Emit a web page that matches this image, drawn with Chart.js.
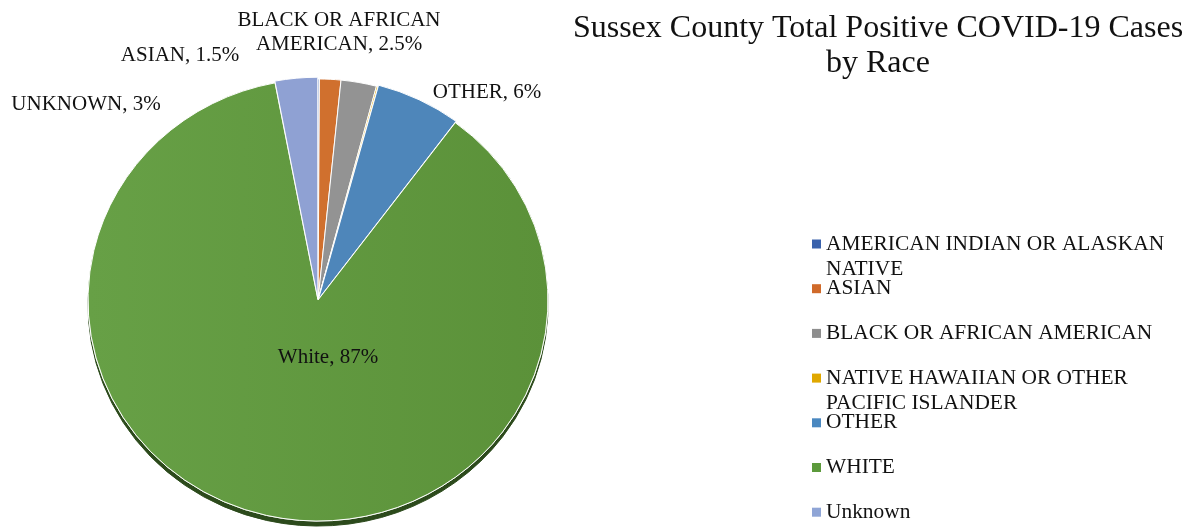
<!DOCTYPE html>
<html>
<head>
<meta charset="utf-8">
<script src="https://cdn.jsdelivr.net/npm/chart.js"></script>
<style>
  html, body { margin: 0; padding: 0; background: #fff; }
  #wrap { position: relative; width: 1192px; height: 527px; }
</style>
</head>
<body>
<div id="wrap"><canvas id="chartRace"></canvas></div>
<script>
// ─── DATA ─────────────────────────────────────────────────────────────────
const categories = [
  'AMERICAN INDIAN OR ALASKAN NATIVE',
  'ASIAN',
  'BLACK OR AFRICAN AMERICAN',
  'NATIVE HAWAIIAN OR OTHER PACIFIC ISLANDER',
  'OTHER',
  'WHITE',
  'Unknown',
];
// legend text, already split the way the reference wraps it
const legendLines = [
  ['AMERICAN INDIAN OR ALASKAN', 'NATIVE'],
  ['ASIAN'],
  ['BLACK OR AFRICAN AMERICAN'],
  ['NATIVE HAWAIIAN OR OTHER', 'PACIFIC ISLANDER'],
  ['OTHER'],
  ['WHITE'],
  ['Unknown'],
];
const sharePct = [0.1, 1.5, 2.5, 0.1, 6, 87, 3];
// data labels shown on the pie (null = no label)
const labelNames = [null, ['ASIAN, 1.5%'], ['BLACK OR AFRICAN', 'AMERICAN, 2.5%'], null, ['OTHER, 6%'], ['White, 87%'], ['UNKNOWN, 3%']];

const sliceColors  = ['#3C64AE', '#D0702E', '#939393', '#E2A800', '#4E86BA', '#5F973F', '#8FA1D3'];
const legendColors = ['#3A62AC', '#D06A2A', '#8E8E8E', '#E0A800', '#4A88C0', '#5C9A3C', '#8FA5D6'];

const TITLE = ['Sussex County Total Positive COVID-19 Cases', 'by Race'];
const FONT = '"Liberation Serif", "Times New Roman", serif';

// ─── PLUGINS ──────────────────────────────────────────────────────────────
// slight 3D tilt + dark edge under the pie.
// First pass draws the arcs with a shadow, the normal pass then covers the inside,
// so only the lower rim stays visible.
const tiltPlugin = {
  id: 'tilt',
  beforeDatasetsDraw(chart, args, opts) {
    const ctx = chart.ctx;
    const arcs = chart.getDatasetMeta(0).data;
    const a0 = arcs[0];
    ctx.save();
    ctx.translate(a0.x, a0.y);
    ctx.scale(1, opts.ratio);
    ctx.translate(-a0.x, -a0.y);
    ctx.save();
    ctx.shadowColor = opts.shadow;
    ctx.shadowOffsetY = opts.depth;
    ctx.shadowBlur = 0;
    arcs.forEach(a => a.draw(ctx));
    ctx.restore();
  },
  afterDatasetsDraw(chart) {
    chart.ctx.restore();
  },
};

const pieLabels = {
  id: 'pieLabels',
  afterDatasetsDraw(chart, args, opts) {
    const ctx = chart.ctx;
    const arcs = chart.getDatasetMeta(0).data;
    ctx.save();
    ctx.font = opts.size + 'px ' + FONT;
    ctx.fillStyle = opts.color;
    ctx.textAlign = 'center';
    ctx.textBaseline = 'middle';
    labelNames.forEach((lines, i) => {
      if (!lines) return;
      const off = opts.offsets[i];
      const cx = arcs[i].x + off[0];
      const cy = arcs[i].y + off[1];
      const top = cy - (lines.length - 1) * opts.lineHeight / 2;
      lines.forEach((t, j) => ctx.fillText(t, cx, top + j * opts.lineHeight));
    });
    ctx.restore();
  },
};

const sideLegend = {
  id: 'sideLegend',
  afterDraw(chart, args, opts) {
    const ctx = chart.ctx;
    ctx.save();
    ctx.font = opts.size + 'px ' + FONT;
    ctx.textBaseline = 'middle';
    ctx.textAlign = 'left';
    legendLines.forEach((lines, i) => {
      const y = opts.y + i * opts.step;
      ctx.fillStyle = legendColors[i];
      ctx.fillRect(opts.x, y - opts.box / 2, opts.box, opts.box);
      ctx.fillStyle = opts.color;
      lines.forEach((t, j) => ctx.fillText(t, opts.x + opts.box + 5, y + j * opts.lineHeight));
    });
    // title
    ctx.font = opts.titleSize + 'px ' + FONT;
    ctx.textAlign = 'center';
    ctx.textBaseline = 'alphabetic';
    TITLE.forEach((t, j) => ctx.fillText(t, opts.titleX, opts.titleY + j * opts.titleLine));
    ctx.restore();
  },
};

// ─── CHART ────────────────────────────────────────────────────────────────
function whiteFill(c) {
  const i = c.dataIndex;
  if (categories[i] !== 'WHITE') return sliceColors[i];
  const g = c.chart.ctx.createLinearGradient(90, 0, 550, 0);
  g.addColorStop(0, '#67A046');
  g.addColorStop(1, '#5B9139');
  return g;
}

new Chart(document.getElementById('chartRace').getContext('2d'), {
  type: 'pie',
  data: {
    labels: categories,
    datasets: [{
      data: sharePct,
      backgroundColor: whiteFill,
      borderColor: '#ffffff',
      borderWidth: 1,
      offset: [0, 0, 0, 0, 4, 0, 4],
    }],
  },
  options: {
    responsive: true,
    maintainAspectRatio: false,
    animation: false,
    radius: 230,
    layout: { padding: { left: 0, right: 556, top: 73, bottom: 0 } },
    plugins: {
      legend: { display: false },
      title: { display: false },
      tooltip: { enabled: false },
      tilt: { ratio: 0.961, depth: 5, shadow: '#2C4A1C' },
      pieLabels: {
        size: 21, lineHeight: 24, color: '#111',
        offsets: [null, [-138, -245], [21, -268], null, [169, -208], [10, 57], [-232, -196]],
      },
      sideLegend: {
        x: 812, y: 244, step: 44.7, box: 9, lineHeight: 25, size: 21.4, color: '#111',
        titleX: 878, titleY: 37, titleLine: 35, titleSize: 32,
      },
    },
  },
  plugins: [tiltPlugin, pieLabels, sideLegend],
});
</script>
</body>
</html>
